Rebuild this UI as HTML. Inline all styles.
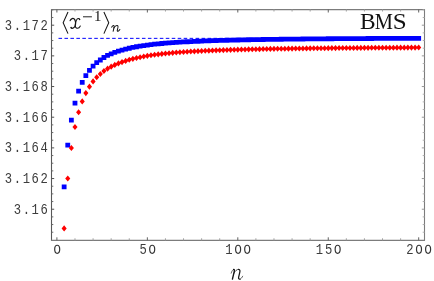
<!DOCTYPE html>
<html><head><meta charset="utf-8"><title>plot</title>
<style>html,body{margin:0;padding:0;background:#fff;}svg{display:block;will-change:transform;}text{font-family:"Liberation Mono",monospace;}</style></head><body>
<svg width="434" height="281" viewBox="0 0 434 281">
<rect x="0" y="0" width="434" height="281" fill="#fff"/>
<line x1="58.5" y1="38.35" x2="420" y2="38.35" stroke="#0000ff" stroke-width="1" stroke-dasharray="3.56 2.4"/>
<path d="M61.74 184.40h4.8v4.8h-4.8zM65.35 142.80h4.8v4.8h-4.8zM68.97 117.80h4.8v4.8h-4.8zM72.59 100.80h4.8v4.8h-4.8zM76.21 88.70h4.8v4.8h-4.8zM79.83 79.90h4.8v4.8h-4.8zM83.44 73.30h4.8v4.8h-4.8zM87.06 67.95h4.8v4.8h-4.8zM90.68 63.65h4.8v4.8h-4.8zM94.30 60.30h4.8v4.8h-4.8zM97.92 57.60h4.8v4.8h-4.8zM101.53 55.10h4.8v4.8h-4.8zM105.15 53.00h4.8v4.8h-4.8zM108.77 51.40h4.8v4.8h-4.8zM112.39 49.99h4.8v4.8h-4.8zM116.01 48.76h4.8v4.8h-4.8zM119.62 47.69h4.8v4.8h-4.8zM123.24 46.71h4.8v4.8h-4.8zM126.86 45.84h4.8v4.8h-4.8zM130.48 45.06h4.8v4.8h-4.8zM134.10 44.36h4.8v4.8h-4.8zM137.71 43.74h4.8v4.8h-4.8zM141.33 43.17h4.8v4.8h-4.8zM144.95 42.66h4.8v4.8h-4.8zM148.57 42.19h4.8v4.8h-4.8zM152.19 41.78h4.8v4.8h-4.8zM155.80 41.41h4.8v4.8h-4.8zM159.42 41.08h4.8v4.8h-4.8zM163.04 40.76h4.8v4.8h-4.8zM166.66 40.48h4.8v4.8h-4.8zM170.28 40.22h4.8v4.8h-4.8zM173.89 39.97h4.8v4.8h-4.8zM177.51 39.75h4.8v4.8h-4.8zM181.13 39.54h4.8v4.8h-4.8zM184.75 39.34h4.8v4.8h-4.8zM188.37 39.16h4.8v4.8h-4.8zM191.98 38.99h4.8v4.8h-4.8zM195.60 38.83h4.8v4.8h-4.8zM199.22 38.68h4.8v4.8h-4.8zM202.84 38.54h4.8v4.8h-4.8zM206.46 38.41h4.8v4.8h-4.8zM210.07 38.28h4.8v4.8h-4.8zM213.69 38.17h4.8v4.8h-4.8zM217.31 38.06h4.8v4.8h-4.8zM220.93 37.95h4.8v4.8h-4.8zM224.55 37.85h4.8v4.8h-4.8zM228.16 37.76h4.8v4.8h-4.8zM231.78 37.67h4.8v4.8h-4.8zM235.40 37.59h4.8v4.8h-4.8zM239.02 37.51h4.8v4.8h-4.8zM242.64 37.43h4.8v4.8h-4.8zM246.25 37.36h4.8v4.8h-4.8zM249.87 37.29h4.8v4.8h-4.8zM253.49 37.23h4.8v4.8h-4.8zM257.11 37.17h4.8v4.8h-4.8zM260.73 37.11h4.8v4.8h-4.8zM264.34 37.05h4.8v4.8h-4.8zM267.96 36.99h4.8v4.8h-4.8zM271.58 36.94h4.8v4.8h-4.8zM275.20 36.89h4.8v4.8h-4.8zM278.82 36.84h4.8v4.8h-4.8zM282.43 36.80h4.8v4.8h-4.8zM286.05 36.75h4.8v4.8h-4.8zM289.67 36.71h4.8v4.8h-4.8zM293.29 36.67h4.8v4.8h-4.8zM296.91 36.63h4.8v4.8h-4.8zM300.52 36.59h4.8v4.8h-4.8zM304.14 36.56h4.8v4.8h-4.8zM307.76 36.52h4.8v4.8h-4.8zM311.38 36.49h4.8v4.8h-4.8zM315.00 36.46h4.8v4.8h-4.8zM318.61 36.43h4.8v4.8h-4.8zM322.23 36.40h4.8v4.8h-4.8zM325.85 36.37h4.8v4.8h-4.8zM329.47 36.34h4.8v4.8h-4.8zM333.09 36.31h4.8v4.8h-4.8zM336.70 36.29h4.8v4.8h-4.8zM340.32 36.26h4.8v4.8h-4.8zM343.94 36.24h4.8v4.8h-4.8zM347.56 36.21h4.8v4.8h-4.8zM351.18 36.19h4.8v4.8h-4.8zM354.79 36.17h4.8v4.8h-4.8zM358.41 36.15h4.8v4.8h-4.8zM362.03 36.13h4.8v4.8h-4.8zM365.65 36.11h4.8v4.8h-4.8zM369.27 36.09h4.8v4.8h-4.8zM372.88 36.07h4.8v4.8h-4.8zM376.50 36.05h4.8v4.8h-4.8zM380.12 36.03h4.8v4.8h-4.8zM383.74 36.01h4.8v4.8h-4.8zM387.36 36.00h4.8v4.8h-4.8zM390.97 35.98h4.8v4.8h-4.8zM394.59 35.96h4.8v4.8h-4.8zM398.21 35.95h4.8v4.8h-4.8zM401.83 35.93h4.8v4.8h-4.8zM405.45 35.92h4.8v4.8h-4.8zM409.06 35.90h4.8v4.8h-4.8zM412.68 35.89h4.8v4.8h-4.8zM416.30 35.88h4.8v4.8h-4.8z" fill="#0000ff"/>
<path d="M64.14 225.35l2.55 3.05l-2.55 3.05l-2.55 -3.05zM67.75 175.45l2.55 3.05l-2.55 3.05l-2.55 -3.05zM71.37 144.95l2.55 3.05l-2.55 3.05l-2.55 -3.05zM74.99 123.95l2.55 3.05l-2.55 3.05l-2.55 -3.05zM78.61 109.25l2.55 3.05l-2.55 3.05l-2.55 -3.05zM82.23 98.35l2.55 3.05l-2.55 3.05l-2.55 -3.05zM85.84 90.05l2.55 3.05l-2.55 3.05l-2.55 -3.05zM89.46 83.60l2.55 3.05l-2.55 3.05l-2.55 -3.05zM93.08 78.35l2.55 3.05l-2.55 3.05l-2.55 -3.05zM96.70 74.15l2.55 3.05l-2.55 3.05l-2.55 -3.05zM100.32 70.95l2.55 3.05l-2.55 3.05l-2.55 -3.05zM103.93 68.02l2.55 3.05l-2.55 3.05l-2.55 -3.05zM107.55 65.62l2.55 3.05l-2.55 3.05l-2.55 -3.05zM111.17 63.59l2.55 3.05l-2.55 3.05l-2.55 -3.05zM114.79 61.85l2.55 3.05l-2.55 3.05l-2.55 -3.05zM118.41 60.35l2.55 3.05l-2.55 3.05l-2.55 -3.05zM122.02 59.05l2.55 3.05l-2.55 3.05l-2.55 -3.05zM125.64 57.83l2.55 3.05l-2.55 3.05l-2.55 -3.05zM129.26 56.76l2.55 3.05l-2.55 3.05l-2.55 -3.05zM132.88 55.79l2.55 3.05l-2.55 3.05l-2.55 -3.05zM136.50 54.93l2.55 3.05l-2.55 3.05l-2.55 -3.05zM140.11 54.16l2.55 3.05l-2.55 3.05l-2.55 -3.05zM143.73 53.45l2.55 3.05l-2.55 3.05l-2.55 -3.05zM147.35 52.82l2.55 3.05l-2.55 3.05l-2.55 -3.05zM150.97 52.23l2.55 3.05l-2.55 3.05l-2.55 -3.05zM154.59 51.74l2.55 3.05l-2.55 3.05l-2.55 -3.05zM158.20 51.28l2.55 3.05l-2.55 3.05l-2.55 -3.05zM161.82 50.87l2.55 3.05l-2.55 3.05l-2.55 -3.05zM165.44 50.49l2.55 3.05l-2.55 3.05l-2.55 -3.05zM169.06 50.14l2.55 3.05l-2.55 3.05l-2.55 -3.05zM172.68 49.81l2.55 3.05l-2.55 3.05l-2.55 -3.05zM176.29 49.52l2.55 3.05l-2.55 3.05l-2.55 -3.05zM179.91 49.24l2.55 3.05l-2.55 3.05l-2.55 -3.05zM183.53 48.98l2.55 3.05l-2.55 3.05l-2.55 -3.05zM187.15 48.74l2.55 3.05l-2.55 3.05l-2.55 -3.05zM190.77 48.52l2.55 3.05l-2.55 3.05l-2.55 -3.05zM194.38 48.31l2.55 3.05l-2.55 3.05l-2.55 -3.05zM198.00 48.12l2.55 3.05l-2.55 3.05l-2.55 -3.05zM201.62 47.93l2.55 3.05l-2.55 3.05l-2.55 -3.05zM205.24 47.76l2.55 3.05l-2.55 3.05l-2.55 -3.05zM208.86 47.60l2.55 3.05l-2.55 3.05l-2.55 -3.05zM212.47 47.45l2.55 3.05l-2.55 3.05l-2.55 -3.05zM216.09 47.31l2.55 3.05l-2.55 3.05l-2.55 -3.05zM219.71 47.17l2.55 3.05l-2.55 3.05l-2.55 -3.05zM223.33 47.04l2.55 3.05l-2.55 3.05l-2.55 -3.05zM226.95 46.92l2.55 3.05l-2.55 3.05l-2.55 -3.05zM230.56 46.81l2.55 3.05l-2.55 3.05l-2.55 -3.05zM234.18 46.70l2.55 3.05l-2.55 3.05l-2.55 -3.05zM237.80 46.60l2.55 3.05l-2.55 3.05l-2.55 -3.05zM241.42 46.50l2.55 3.05l-2.55 3.05l-2.55 -3.05zM245.04 46.41l2.55 3.05l-2.55 3.05l-2.55 -3.05zM248.65 46.32l2.55 3.05l-2.55 3.05l-2.55 -3.05zM252.27 46.24l2.55 3.05l-2.55 3.05l-2.55 -3.05zM255.89 46.16l2.55 3.05l-2.55 3.05l-2.55 -3.05zM259.51 46.08l2.55 3.05l-2.55 3.05l-2.55 -3.05zM263.13 46.01l2.55 3.05l-2.55 3.05l-2.55 -3.05zM266.74 45.94l2.55 3.05l-2.55 3.05l-2.55 -3.05zM270.36 45.87l2.55 3.05l-2.55 3.05l-2.55 -3.05zM273.98 45.81l2.55 3.05l-2.55 3.05l-2.55 -3.05zM277.60 45.75l2.55 3.05l-2.55 3.05l-2.55 -3.05zM281.22 45.69l2.55 3.05l-2.55 3.05l-2.55 -3.05zM284.83 45.63l2.55 3.05l-2.55 3.05l-2.55 -3.05zM288.45 45.58l2.55 3.05l-2.55 3.05l-2.55 -3.05zM292.07 45.53l2.55 3.05l-2.55 3.05l-2.55 -3.05zM295.69 45.48l2.55 3.05l-2.55 3.05l-2.55 -3.05zM299.31 45.43l2.55 3.05l-2.55 3.05l-2.55 -3.05zM302.92 45.38l2.55 3.05l-2.55 3.05l-2.55 -3.05zM306.54 45.34l2.55 3.05l-2.55 3.05l-2.55 -3.05zM310.16 45.30l2.55 3.05l-2.55 3.05l-2.55 -3.05zM313.78 45.26l2.55 3.05l-2.55 3.05l-2.55 -3.05zM317.40 45.22l2.55 3.05l-2.55 3.05l-2.55 -3.05zM321.01 45.18l2.55 3.05l-2.55 3.05l-2.55 -3.05zM324.63 45.14l2.55 3.05l-2.55 3.05l-2.55 -3.05zM328.25 45.11l2.55 3.05l-2.55 3.05l-2.55 -3.05zM331.87 45.07l2.55 3.05l-2.55 3.05l-2.55 -3.05zM335.49 45.04l2.55 3.05l-2.55 3.05l-2.55 -3.05zM339.10 45.01l2.55 3.05l-2.55 3.05l-2.55 -3.05zM342.72 44.98l2.55 3.05l-2.55 3.05l-2.55 -3.05zM346.34 44.95l2.55 3.05l-2.55 3.05l-2.55 -3.05zM349.96 44.92l2.55 3.05l-2.55 3.05l-2.55 -3.05zM353.58 44.89l2.55 3.05l-2.55 3.05l-2.55 -3.05zM357.19 44.87l2.55 3.05l-2.55 3.05l-2.55 -3.05zM360.81 44.84l2.55 3.05l-2.55 3.05l-2.55 -3.05zM364.43 44.81l2.55 3.05l-2.55 3.05l-2.55 -3.05zM368.05 44.79l2.55 3.05l-2.55 3.05l-2.55 -3.05zM371.67 44.77l2.55 3.05l-2.55 3.05l-2.55 -3.05zM375.28 44.74l2.55 3.05l-2.55 3.05l-2.55 -3.05zM378.90 44.72l2.55 3.05l-2.55 3.05l-2.55 -3.05zM382.52 44.70l2.55 3.05l-2.55 3.05l-2.55 -3.05zM386.14 44.68l2.55 3.05l-2.55 3.05l-2.55 -3.05zM389.76 44.66l2.55 3.05l-2.55 3.05l-2.55 -3.05zM393.37 44.64l2.55 3.05l-2.55 3.05l-2.55 -3.05zM396.99 44.62l2.55 3.05l-2.55 3.05l-2.55 -3.05zM400.61 44.60l2.55 3.05l-2.55 3.05l-2.55 -3.05zM404.23 44.58l2.55 3.05l-2.55 3.05l-2.55 -3.05zM407.85 44.56l2.55 3.05l-2.55 3.05l-2.55 -3.05zM411.46 44.54l2.55 3.05l-2.55 3.05l-2.55 -3.05zM415.08 44.53l2.55 3.05l-2.55 3.05l-2.55 -3.05zM418.70 44.51l2.55 3.05l-2.55 3.05l-2.55 -3.05z" fill="#ff0000"/>
<path d="M51.5 9.0V240.8" stroke="#585858" stroke-width="1.1" fill="none"/>
<path d="M51.0 9.6H425.0" stroke="#7c7c7c" stroke-width="1.25" fill="none"/>
<path d="M51.0 240.35000000000002H425.0" stroke="#7c7c7c" stroke-width="1.3" fill="none"/>
<path d="M424.5 9.0V240.8" stroke="#7c7c7c" stroke-width="1.1" fill="none"/>
<path d="M51.5 209.22h2.7M51.5 178.55h2.7M51.5 147.88h2.7M51.5 117.21h2.7M51.5 86.54h2.7M51.5 55.87h2.7M51.5 25.20h2.7" stroke="#505050" stroke-width="1" fill="none"/>
<path d="M51.5 232.22h1.8M51.5 224.56h1.8M51.5 216.89h1.8M51.5 201.55h1.8M51.5 193.89h1.8M51.5 186.22h1.8M51.5 170.88h1.8M51.5 163.22h1.8M51.5 155.55h1.8M51.5 140.21h1.8M51.5 132.55h1.8M51.5 124.88h1.8M51.5 109.54h1.8M51.5 101.88h1.8M51.5 94.21h1.8M51.5 78.87h1.8M51.5 71.21h1.8M51.5 63.54h1.8M51.5 48.20h1.8M51.5 40.54h1.8M51.5 32.87h1.8M51.5 17.53h1.8M51.5 9.87h1.8" stroke="#6a6a6a" stroke-width="1" fill="none"/>
<path d="M56.90 240.3v-3M147.35 240.3v-3M237.80 240.3v-3M328.25 240.3v-3M418.70 240.3v-3" stroke="#626262" stroke-width="1" fill="none"/>
<path d="M74.99 240.3v-2M93.08 240.3v-2M111.17 240.3v-2M129.26 240.3v-2M165.44 240.3v-2M183.53 240.3v-2M201.62 240.3v-2M219.71 240.3v-2M255.89 240.3v-2M273.98 240.3v-2M292.07 240.3v-2M310.16 240.3v-2M346.34 240.3v-2M364.43 240.3v-2M382.52 240.3v-2M400.61 240.3v-2" stroke="#a0a0a0" stroke-width="1" fill="none"/>
<path d="M56.90 9.5v3.0M147.35 9.5v3.0M237.80 9.5v3.0M328.25 9.5v3.0M418.70 9.5v3.0" stroke="#606060" stroke-width="1" fill="none"/>
<path d="M74.99 9.5v2M93.08 9.5v2M111.17 9.5v2M129.26 9.5v2M165.44 9.5v2M183.53 9.5v2M201.62 9.5v2M219.71 9.5v2M255.89 9.5v2M273.98 9.5v2M292.07 9.5v2M310.16 9.5v2M346.34 9.5v2M364.43 9.5v2M382.52 9.5v2M400.61 9.5v2" stroke="#a0a0a0" stroke-width="1" fill="none"/>
<path d="M424.5 209.22h-2.7M424.5 178.55h-2.7M424.5 147.88h-2.7M424.5 117.21h-2.7M424.5 86.54h-2.7M424.5 55.87h-2.7M424.5 25.20h-2.7" stroke="#989898" stroke-width="1" fill="none"/>
<path d="M424.5 232.22h-1.8M424.5 224.56h-1.8M424.5 216.89h-1.8M424.5 201.55h-1.8M424.5 193.89h-1.8M424.5 186.22h-1.8M424.5 170.88h-1.8M424.5 163.22h-1.8M424.5 155.55h-1.8M424.5 140.21h-1.8M424.5 132.55h-1.8M424.5 124.88h-1.8M424.5 109.54h-1.8M424.5 101.88h-1.8M424.5 94.21h-1.8M424.5 78.87h-1.8M424.5 71.21h-1.8M424.5 63.54h-1.8M424.5 48.20h-1.8M424.5 40.54h-1.8M424.5 32.87h-1.8M424.5 17.53h-1.8M424.5 9.87h-1.8" stroke="#b0b0b0" stroke-width="1" fill="none"/>
<text transform="translate(44.10,29.80) scale(0.87,1)" font-size="14" text-anchor="middle" fill="#3c3c3c">2</text>
<text transform="translate(35.20,29.80) scale(0.87,1)" font-size="14" text-anchor="middle" fill="#3c3c3c">7</text>
<text transform="translate(26.30,29.80) scale(0.87,1)" font-size="14" text-anchor="middle" fill="#3c3c3c">1</text>
<text transform="translate(17.40,29.80) scale(0.87,1)" font-size="14" text-anchor="middle" fill="#3c3c3c">.</text>
<text transform="translate(8.50,29.80) scale(0.87,1)" font-size="14" text-anchor="middle" fill="#3c3c3c">3</text>
<text transform="translate(44.10,60.47) scale(0.87,1)" font-size="14" text-anchor="middle" fill="#3c3c3c">7</text>
<text transform="translate(35.20,60.47) scale(0.87,1)" font-size="14" text-anchor="middle" fill="#3c3c3c">1</text>
<text transform="translate(26.30,60.47) scale(0.87,1)" font-size="14" text-anchor="middle" fill="#3c3c3c">.</text>
<text transform="translate(17.40,60.47) scale(0.87,1)" font-size="14" text-anchor="middle" fill="#3c3c3c">3</text>
<text transform="translate(44.10,91.14) scale(0.87,1)" font-size="14" text-anchor="middle" fill="#3c3c3c">8</text>
<text transform="translate(35.20,91.14) scale(0.87,1)" font-size="14" text-anchor="middle" fill="#3c3c3c">6</text>
<text transform="translate(26.30,91.14) scale(0.87,1)" font-size="14" text-anchor="middle" fill="#3c3c3c">1</text>
<text transform="translate(17.40,91.14) scale(0.87,1)" font-size="14" text-anchor="middle" fill="#3c3c3c">.</text>
<text transform="translate(8.50,91.14) scale(0.87,1)" font-size="14" text-anchor="middle" fill="#3c3c3c">3</text>
<text transform="translate(44.10,121.81) scale(0.87,1)" font-size="14" text-anchor="middle" fill="#3c3c3c">6</text>
<text transform="translate(35.20,121.81) scale(0.87,1)" font-size="14" text-anchor="middle" fill="#3c3c3c">6</text>
<text transform="translate(26.30,121.81) scale(0.87,1)" font-size="14" text-anchor="middle" fill="#3c3c3c">1</text>
<text transform="translate(17.40,121.81) scale(0.87,1)" font-size="14" text-anchor="middle" fill="#3c3c3c">.</text>
<text transform="translate(8.50,121.81) scale(0.87,1)" font-size="14" text-anchor="middle" fill="#3c3c3c">3</text>
<text transform="translate(44.10,152.48) scale(0.87,1)" font-size="14" text-anchor="middle" fill="#3c3c3c">4</text>
<text transform="translate(35.20,152.48) scale(0.87,1)" font-size="14" text-anchor="middle" fill="#3c3c3c">6</text>
<text transform="translate(26.30,152.48) scale(0.87,1)" font-size="14" text-anchor="middle" fill="#3c3c3c">1</text>
<text transform="translate(17.40,152.48) scale(0.87,1)" font-size="14" text-anchor="middle" fill="#3c3c3c">.</text>
<text transform="translate(8.50,152.48) scale(0.87,1)" font-size="14" text-anchor="middle" fill="#3c3c3c">3</text>
<text transform="translate(44.10,183.15) scale(0.87,1)" font-size="14" text-anchor="middle" fill="#3c3c3c">2</text>
<text transform="translate(35.20,183.15) scale(0.87,1)" font-size="14" text-anchor="middle" fill="#3c3c3c">6</text>
<text transform="translate(26.30,183.15) scale(0.87,1)" font-size="14" text-anchor="middle" fill="#3c3c3c">1</text>
<text transform="translate(17.40,183.15) scale(0.87,1)" font-size="14" text-anchor="middle" fill="#3c3c3c">.</text>
<text transform="translate(8.50,183.15) scale(0.87,1)" font-size="14" text-anchor="middle" fill="#3c3c3c">3</text>
<text transform="translate(44.10,213.82) scale(0.87,1)" font-size="14" text-anchor="middle" fill="#3c3c3c">6</text>
<text transform="translate(35.20,213.82) scale(0.87,1)" font-size="14" text-anchor="middle" fill="#3c3c3c">1</text>
<text transform="translate(26.30,213.82) scale(0.87,1)" font-size="14" text-anchor="middle" fill="#3c3c3c">.</text>
<text transform="translate(17.40,213.82) scale(0.87,1)" font-size="14" text-anchor="middle" fill="#3c3c3c">3</text>
<ellipse cx="57.20" cy="249.3" rx="2.5" ry="4.05" fill="none" stroke="#333" stroke-width="1.2"/>
<text transform="translate(143.10,253.8) scale(0.87,1)" font-size="14" text-anchor="middle" fill="#3c3c3c">5</text>
<ellipse cx="152.20" cy="249.3" rx="2.5" ry="4.05" fill="none" stroke="#333" stroke-width="1.2"/>
<text transform="translate(229.00,253.8) scale(0.87,1)" font-size="14" text-anchor="middle" fill="#3c3c3c">1</text>
<ellipse cx="238.10" cy="249.3" rx="2.5" ry="4.05" fill="none" stroke="#333" stroke-width="1.2"/>
<ellipse cx="247.20" cy="249.3" rx="2.5" ry="4.05" fill="none" stroke="#333" stroke-width="1.2"/>
<text transform="translate(319.45,253.8) scale(0.87,1)" font-size="14" text-anchor="middle" fill="#3c3c3c">1</text>
<text transform="translate(328.55,253.8) scale(0.87,1)" font-size="14" text-anchor="middle" fill="#3c3c3c">5</text>
<ellipse cx="337.65" cy="249.3" rx="2.5" ry="4.05" fill="none" stroke="#333" stroke-width="1.2"/>
<text transform="translate(409.90,253.8) scale(0.87,1)" font-size="14" text-anchor="middle" fill="#3c3c3c">2</text>
<ellipse cx="419.00" cy="249.3" rx="2.5" ry="4.05" fill="none" stroke="#333" stroke-width="1.2"/>
<ellipse cx="428.10" cy="249.3" rx="2.5" ry="4.05" fill="none" stroke="#333" stroke-width="1.2"/>
<text transform="translate(360.0,28.8) scale(1.0,1)" font-size="23.4" style="font-family:'Liberation Serif',serif" fill="#111">B</text>
<text transform="translate(374.65,28.8) scale(0.874,1)" font-size="23.4" style="font-family:'Liberation Serif',serif" fill="#111">M</text>
<text transform="translate(392.75,28.8) scale(1.07,1)" font-size="23.4" style="font-family:'Liberation Serif',serif" fill="#111">S</text>
<g transform="translate(222,262) scale(0.06911)" fill="none" stroke="#151515" stroke-linecap="round" stroke-linejoin="round"><path d="M133,162 C140,135 152,110 168,108" stroke-width="9"/><path d="M168,108 C184,108 180,126 176,142 L151,248" stroke-width="20"/><path d="M171,165 C186,130 216,104 240,106" stroke-width="11"/><path d="M240,106 C262,108 262,130 257,150 L240,222 C236,244 248,252 262,248" stroke-width="18"/><path d="M262,248 C278,243 291,224 299,206" stroke-width="9"/></g>
<g fill="none" stroke="#151515" stroke-width="1.05" stroke-linejoin="miter"><path d="M68.0 12.0L63.15 22.8L68.0 33.6"/><path d="M103.9 12.0L108.75 22.8L103.9 33.6"/></g>
<g transform="translate(58,8) scale(0.0926)" fill="none" stroke="#151515" stroke-linecap="round"><path d="M131,137 C137,117 166,100 181,126 C197,155 192,200 169,214 C158,221 144,222 141,213" stroke-width="13"/><path d="M234,123 C231,109 209,106 200,130 C183,162 178,213 203,218 C220,222 233,211 241,195" stroke-width="11"/><circle cx="142" cy="211" r="8" fill="#151515" stroke="none"/><circle cx="233" cy="124" r="8" fill="#151515" stroke="none"/></g>
<path d="M83 16.8h8.9" stroke="#151515" stroke-width="0.95" fill="none"/>
<text transform="translate(94.1,21) scale(0.95,1)" font-size="15.6" style="font-family:'Liberation Serif',serif" fill="#111">1</text>
<g transform="translate(88,8) scale(0.0926)" fill="none" stroke="#151515" stroke-linecap="round"><path d="M256,207 C261,194 272,186 280,191 C287,196 276,232 272,251" stroke-width="11"/><path d="M279,216 C290,196 310,183 322,192 C331,200 318,230 316,242 C314,256 331,254 344,232" stroke-width="11"/></g>
</svg></body></html>
